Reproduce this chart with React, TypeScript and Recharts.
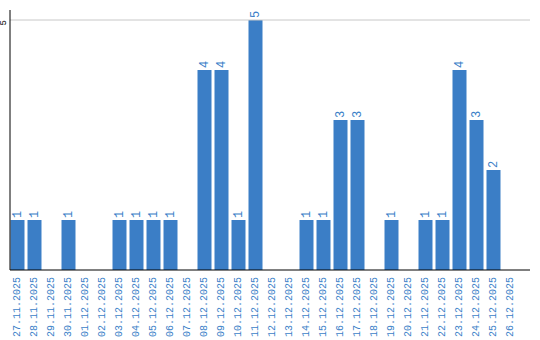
import React from 'react';
import { BarChart, Bar, XAxis, YAxis, ReferenceLine, LabelList } from 'recharts';

const categories = [
  '27.11.2025', '28.11.2025', '29.11.2025', '30.11.2025', '01.12.2025', '02.12.2025',
  '03.12.2025', '04.12.2025', '05.12.2025', '06.12.2025', '07.12.2025', '08.12.2025',
  '09.12.2025', '10.12.2025', '11.12.2025', '12.12.2025', '13.12.2025', '14.12.2025',
  '15.12.2025', '16.12.2025', '17.12.2025', '18.12.2025', '19.12.2025', '20.12.2025',
  '21.12.2025', '22.12.2025', '23.12.2025', '24.12.2025', '25.12.2025', '26.12.2025',
];
const counts = [1, 1, 0, 1, 0, 0, 1, 1, 1, 1, 0, 4, 4, 1, 5, 0, 0, 1, 1, 3, 3, 0, 1, 0, 1, 1, 4, 3, 2, 0];
const yTicks = [5];

const data = categories.map((c, i) => ({ date: c, value: counts[i] }));

const BLUE = '#3b7ec6';
const TEXT_BLUE = '#3c7fc8';
const FONT = '"Liberation Mono", monospace';

const XTick = (props: any) => {
  const { x, payload, viewBox } = props;
  const axisY = viewBox && typeof viewBox.y === 'number' ? viewBox.y : 270;
  return (
    <text
      x={0}
      y={0}
      transform={`translate(${x + 2.8},${axisY + 7}) rotate(-90)`}
      textAnchor="end"
      fill={TEXT_BLUE}
      fontFamily={FONT}
      fontSize={10}
    >
      {payload.value}
    </text>
  );
};

const YTick = (props: any) => {
  const { y, payload } = props;
  return (
    <text
      x={0}
      y={0}
      transform={`translate(6,${y}) rotate(-90)`}
      textAnchor="end"
      fill="#000"
      fontFamily={FONT}
      fontSize={9}
    >
      {payload.value}
    </text>
  );
};

const ValueLabel = (props: any) => {
  const { x, y, width, value } = props;
  if (!value) return null;
  const cx = Number(x) + Number(width) / 2;
  return (
    <text
      x={0}
      y={0}
      transform={`translate(${cx + 3.8},${Number(y) - 2}) rotate(-90)`}
      textAnchor="start"
      fill={TEXT_BLUE}
      fontFamily={FONT}
      fontSize={12}
    >
      {value}
    </text>
  );
};

export default function App() {
  return (
    <div style={{ position: 'absolute', left: 0, top: 0, width: 540, height: 340, background: '#fff' }}>
      <BarChart
        width={540}
        height={340}
        data={data}
        margin={{ top: 10, right: 10, bottom: 0, left: 0 }}
        barSize={14}
      >
        {yTicks.map((t) => (
          <ReferenceLine key={t} y={t} stroke="#c8c8c8" />
        ))}
        <XAxis
          dataKey="date"
          interval={0}
          height={70}
          tick={<XTick />}
          tickLine={false}
          axisLine={{ stroke: '#000' }}
          padding={{ left: -1.5, right: 11.5 }}
        />
        <YAxis
          width={10}
          domain={[0, 5.2]}
          ticks={yTicks}
          tick={<YTick />}
          tickLine={false}
          axisLine={{ stroke: '#000' }}
        />
        <Bar dataKey="value" fill={BLUE} isAnimationActive={false}>
          <LabelList dataKey="value" content={<ValueLabel />} />
        </Bar>
      </BarChart>
    </div>
  );
}
